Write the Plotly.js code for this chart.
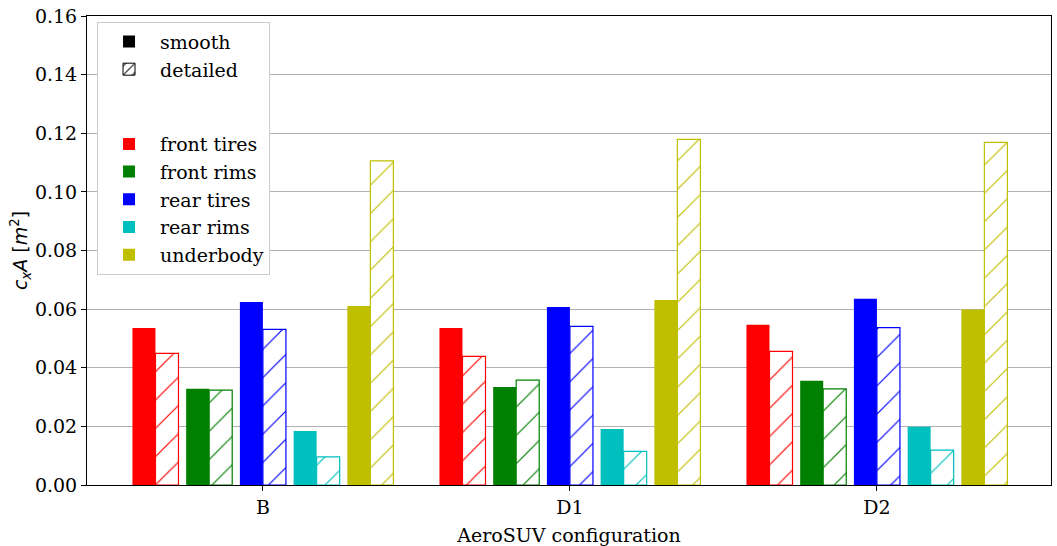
<!DOCTYPE html>
<html>
<head>
<meta charset="utf-8">
<script src="https://cdn.plot.ly/plotly-3.0.1.min.js"></script>
<style>html,body{margin:0;padding:0;background:#fff;}#chart{width:1057px;height:546px;}</style>
</head>
<body>
<div id="chart"></div>
<script>
const configurations = ["B", "D1", "D2"];
const components = ["front tires", "front rims", "rear tires", "rear rims", "underbody"];
const colors = ["#ff0000", "#008000", "#0000ff", "#00bfbf", "#bfbf00"];
// smooth values per component [B, D1, D2]
const smoothFrontTires = [0.0536, 0.0536, 0.0547];
const smoothFrontRims  = [0.0328, 0.0334, 0.0356];
const smoothRearTires  = [0.0624, 0.0607, 0.0635];
const smoothRearRims   = [0.0184, 0.0191, 0.0199];
const smoothUnderbody  = [0.0611, 0.0631, 0.0599];
// detailed values per component [B, D1, D2]
const detailedFrontTires = [0.0449, 0.0439, 0.0456];
const detailedFrontRims  = [0.0324, 0.0358, 0.0328];
const detailedRearTires  = [0.0531, 0.0541, 0.0537];
const detailedRearRims   = [0.0096, 0.0115, 0.0119];
const detailedUnderbody  = [0.1106, 0.1179, 0.1169];

const smooth = [smoothFrontTires, smoothFrontRims, smoothRearTires, smoothRearRims, smoothUnderbody];
const detailed = [detailedFrontTires, detailedFrontRims, detailedRearTires, detailedRearRims, detailedUnderbody];

const barW = 0.075, pitch = 0.175;
const serif = "DejaVu Serif";
const fs = 19;
const traces = [];
// legend-only entries
traces.push({type:"bar", x:[null], y:[null], name:"smooth", legendgroup:"style", legendrank:1,
  marker:{color:"#000000", line:{width:0}}});
traces.push({type:"bar", x:[null], y:[null], name:"detailed", legendgroup:"style", legendrank:2,
  marker:{color:"#ffffff", line:{color:"#000000", width:1},
    pattern:{shape:"/", fgcolor:"#000000", bgcolor:"#ffffff", size:8, solidity:0.15}}});

components.forEach((c, i) => {
  traces.push({type:"bar", x:configurations, y:smooth[i], name:c, legendgroup:"comp", legendrank:10+i,
    width:barW, offset:(i-2)*pitch - barW,
    marker:{color:colors[i], line:{width:0}}, hoverinfo:"y+name"});
  traces.push({type:"bar", x:configurations, y:detailed[i], name:c+" detailed", showlegend:false,
    width:barW, offset:(i-2)*pitch,
    marker:{color:"#ffffff", line:{color:colors[i], width:1.2},
      pattern:{shape:"/", fgcolor:colors[i], bgcolor:"#ffffff", size:20, solidity:0.06}},
    hoverinfo:"y+name"});
});

const layout = {
  width:1057, height:546,
  margin:{l:87, r:6, t:16, b:61},
  paper_bgcolor:"#ffffff", plot_bgcolor:"#ffffff",
  barmode:"overlay",
  font:{family:serif, size:fs, color:"#000000"},
  xaxis:{type:"category", range:[-0.573, 2.567], showgrid:false, zeroline:false,
    showline:true, mirror:true, linecolor:"#000000", linewidth:1,
    ticks:"outside", ticklen:5, tickcolor:"#000000",
    tickfont:{family:serif, size:fs},
    title:{text:"AeroSUV configuration", font:{family:serif, size:fs}, standoff:14}},
  yaxis:{range:[0,0.16], dtick:0.02, tickformat:".2f", showgrid:true, gridcolor:"#b0b0b0", gridwidth:1,
    zeroline:false, showline:true, mirror:true, linecolor:"#000000", linewidth:1,
    ticks:"outside", ticklen:5, tickcolor:"#000000",
    tickfont:{family:serif, size:fs},
    title:{text:"<i>c</i><sub><i>x</i></sub><i>A</i> [<i>m</i><sup>2</sup>]", font:{family:"DejaVu Sans", size:fs}, standoff:2}},
  legend:{x:0.0104, y:0.988, xanchor:"left", yanchor:"top", bgcolor:"#ffffff",
    bordercolor:"#cccccc", borderwidth:1, traceorder:"grouped", tracegroupgap:47,
    font:{family:serif, size:fs}, itemwidth:52},
  showlegend:true
};

Plotly.newPlot("chart", traces, layout, {displayModeBar:false, staticPlot:true});
</script>
</body>
</html>
